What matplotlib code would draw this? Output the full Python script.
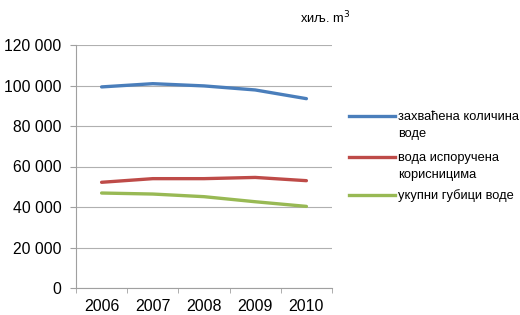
import matplotlib.pyplot as plt
from matplotlib.lines import Line2D
import numpy as np

plt.rcParams['font.family'] = ['Liberation Sans', 'DejaVu Sans']

years = ['2006', '2007', '2008', '2009', '2010']
zahvacena = [99300, 100900, 99800, 97800, 93500]
isporucena = [52200, 54000, 54000, 54600, 53000]
gubici = [46900, 46400, 45100, 42600, 40300]

names = ['захваћена количина\nводе', 'вода испоручена\nкорисницима', 'укупни губици воде']
colors = ['#4a7ebb', '#be4b48', '#98b954']
yticks = [0, 20000, 40000, 60000, 80000, 100000, 120000]
ytick_labels = ['0', '20 000', '40 000', '60 000', '80 000', '100 000', '120 000']

fig = plt.figure(figsize=(5.2, 3.15), dpi=100)
ax = fig.add_axes([76/520, 1-288/315, 256/520, 243/315])

x = np.arange(len(years))
for vals, c in zip([zahvacena, isporucena, gubici], colors):
    ax.plot(x, vals, color=c, lw=2.4, solid_capstyle='round')

ax.set_xlim(-0.5, len(years)-0.5)
ax.set_ylim(0, 120000)
ax.set_yticks(yticks)
ax.set_yticklabels(ytick_labels, fontsize=11.3)
ax.set_xticks(x)
ax.set_xticklabels(years, fontsize=11.5)
ax.set_xticks(np.arange(-0.5, len(years), 1), minor=True)
ax.tick_params(axis='x', which='major', length=0, pad=8)
ax.tick_params(axis='x', which='minor', length=3.8, color='#a0a0a0')
ax.tick_params(axis='y', length=4.3, color='#a0a0a0', pad=6)
ax.grid(axis='y', color='#b0b0b0', lw=0.8)
ax.set_axisbelow(True)
for s in ['top', 'right']:
    ax.spines[s].set_visible(False)
for s in ['left', 'bottom']:
    ax.spines[s].set_color('#a0a0a0')

fig.text(325/520, 1-17/315, 'хиљ. m$^3$', fontsize=9.3, ha='center', va='center')

# legend
leg_y = [116, 157, 195]
for yy, name, c in zip(leg_y, names, colors):
    fy = 1 - yy/315
    fig.add_artist(Line2D([349/520, 395/520], [fy, fy], color=c, lw=2.4,
                          transform=fig.transFigure))
    fig.text(398/520, fy + 5.5/315, name, fontsize=9.3, ha='left', va='top',
             linespacing=1.6)

fig.savefig('out.png', dpi=100)
